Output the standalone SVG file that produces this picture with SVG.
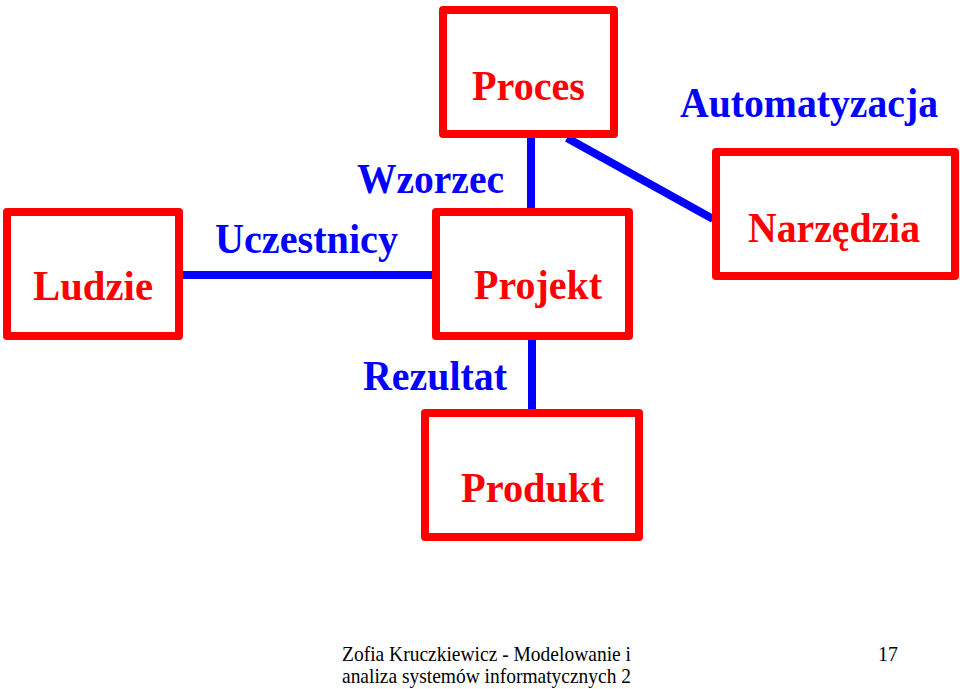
<svg xmlns="http://www.w3.org/2000/svg" width="960" height="689" viewBox="0 0 960 689">
<style>
.box{fill:#fff;stroke:#ff0000;stroke-width:8;stroke-linejoin:round}
.conn{stroke:#0000ff;stroke-width:8;fill:none}
.nt{font-family:"Liberation Serif",serif;font-weight:bold;font-size:42px;fill:#ff0000}
.lt{font-family:"Liberation Serif",serif;font-weight:bold;font-size:42px;fill:#0000ff}
.ft{font-family:"Liberation Serif",serif;font-size:21px;fill:#000}
</style>
<rect width="960" height="689" fill="#fff"/>
<g id="connectors">
<line class="conn" x1="183" y1="275" x2="432" y2="275"/>
<line class="conn" x1="531" y1="138" x2="531" y2="212"/>
<line class="conn" x1="567" y1="138" x2="713" y2="219"/>
<line class="conn" x1="532" y1="340" x2="532" y2="410"/>
</g>
<g id="ludzie"><rect class="box" x="7" y="212" width="172" height="124"/><text class="nt" x="33" y="300" textLength="120" lengthAdjust="spacingAndGlyphs">Ludzie</text></g>
<g id="proces"><rect class="box" x="443" y="10" width="171" height="124"/><text class="nt" x="472" y="100" textLength="113" lengthAdjust="spacingAndGlyphs">Proces</text></g>
<g id="projekt"><rect class="box" x="436" y="212" width="193" height="124"/><text class="nt" x="474" y="299" textLength="128" lengthAdjust="spacingAndGlyphs">Projekt</text></g>
<g id="narzedzia"><rect class="box" x="716" y="152" width="239" height="124"/><text class="nt" x="748" y="242" textLength="172" lengthAdjust="spacingAndGlyphs">Narzędzia</text></g>
<g id="produkt"><rect class="box" x="425" y="413" width="214" height="124"/><text class="nt" x="461" y="502" textLength="143" lengthAdjust="spacingAndGlyphs">Produkt</text></g>
<g id="labels">
<text class="lt" x="680" y="117" textLength="258" lengthAdjust="spacingAndGlyphs">Automatyzacja</text>
<text class="lt" x="357" y="193" textLength="147" lengthAdjust="spacingAndGlyphs">Wzorzec</text>
<text class="lt" x="215" y="253" textLength="183" lengthAdjust="spacingAndGlyphs">Uczestnicy</text>
<text class="lt" x="363" y="390" textLength="144" lengthAdjust="spacingAndGlyphs">Rezultat</text>
</g>
<g id="footer">
<text class="ft" x="342" y="661" textLength="289" lengthAdjust="spacingAndGlyphs">Zofia Kruczkiewicz - Modelowanie i</text>
<text class="ft" x="342" y="683" textLength="289" lengthAdjust="spacingAndGlyphs">analiza systemów informatycznych 2</text>
<text class="ft" x="878" y="661" textLength="20" lengthAdjust="spacingAndGlyphs">17</text>
</g>
</svg>
